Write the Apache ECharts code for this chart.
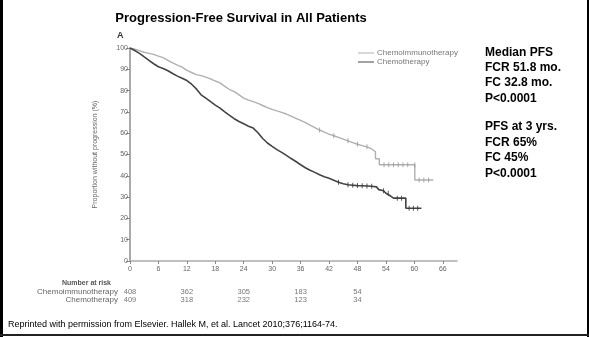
<!DOCTYPE html>
<html>
<head>
<meta charset="utf-8">
<script src="https://cdn.jsdelivr.net/npm/echarts@6/dist/echarts.min.js"></script>
<style>
html,body{margin:0;padding:0;background:#fff;}
#c{width:589px;height:337px;}
</style>
</head>
<body>
<div id="c"></div>
<script>
// ---- data ----
var xTicks = [0, 6, 12, 18, 24, 30, 36, 42, 48, 54, 60, 66];
var yTicks = [0, 10, 20, 30, 40, 50, 60, 70, 80, 90, 100];
var seriesNames = ['Chemoimmunotherapy', 'Chemotherapy'];

// Chemoimmunotherapy (FCR) Kaplan-Meier curve: [months, % progression-free]
var fcrCurve = [
  [0,100],[1,99.5],[2,98.8],[3,98],[4,97.5],[5,97],[6,96.2],[7,95.5],[8,94.2],[9,93],
  [10,92],[11,91],[12,89.5],[13,88.5],[14,87.5],[15,87],[16,86.3],[17,85.5],[18,84.5],
  [19,83.6],[20,82],[21,80.5],[22,79.5],[23,78],[24,76.5],[25,75.5],[26,74.8],[27,74],
  [28,73],[29,72],[30,71.2],[31,70.5],[32,69.8],[33,69],[34,68],[35,67],[36,66],[37,65],
  [38,63.8],[39,62.6],[40,61.5],[41,60.5],[42,59.6],[43,58.8],[44,58],[45,57.2],[46,56.4],
  [47,55.6],[48,54.8],[49,54.2],[50,53.6],[51,52.6],[51.8,51.3],[51.8,48],[52.6,48],
  [52.6,45.2],[60.1,45.2],[60.1,38],[64,38]
];
// Chemotherapy (FC) Kaplan-Meier curve
var fcCurve = [
  [0,100],[1,98.8],[2,97.5],[3,95.8],[4,94.2],[5,92.6],[6,91.2],[7,90.4],[8,89.3],[9,88],
  [10,86.8],[11,85.8],[12,84.7],[13,83],[14,80.8],[15,78],[16,76.5],[17,74.8],[18,73.2],
  [19,71.8],[20,70],[21,68.4],[22,66.8],[23,65.5],[24,64.4],[25,63.3],[26,62.4],[27,60.2],
  [28,57.5],[29,55.4],[30,53.8],[31,52.3],[32,51],[33,49.6],[34,48.1],[35,46.7],[36,45.2],
  [37,43.8],[38,42.6],[39,41.6],[40,40.5],[41,39.6],[42,38.8],[43,37.9],[44,37],[45,36.3],
  [46,35.8],[47,35.6],[48,35.4],[49,35.3],[50,35.2],[51,35.1],[52,34.8],[52.5,33.5],[53.5,33],
  [54,31.8],[55,30.5],[55.6,29.5],[58.2,29.5],[58.2,24.8],[61.5,24.8]
];
// censoring marks
var fcrCensor = [[40,61.5],[43,58.8],[46,56.4],[48,54.8],[50,53.6],[53.6,45.2],[54.6,45.2],[55.6,45.2],[56.6,45.2],[57.6,45.2],[58.6,45.2],[60.1,45.2],[61,38],[62,38],[63,38]];
var fcCensor = [[44,37],[46,35.8],[47,35.6],[48,35.4],[49,35.3],[50,35.2],[51,35.1],[53.5,33],[54.5,31.8],[56.4,29.5],[57.3,29.5],[58.9,24.8],[59.8,24.8],[60.7,24.8]];

// Number at risk
var riskTimes = [0, 12, 24, 36, 48];
var riskFCR = [408, 362, 305, 183, 54];
var riskFC = [409, 318, 232, 123, 34];

var titleText = 'Progression-Free Survival in All Patients';
var sideText = ['Median PFS','FCR 51.8 mo.','FC 32.8 mo.','P<0.0001','','PFS at 3 yrs.','FCR 65%','FC 45%','P<0.0001'];
var footText = 'Reprinted with permission from Elsevier. Hallek M, et al. Lancet 2010;376;1164-74.';

// ---- chart ----
var chart = echarts.init(document.getElementById('c'), null, {renderer: 'canvas'});
var lightC = '#b0b0b0', darkC = '#444';
var smallFont = 'Liberation Sans';

function riskData(vals, row) {
  return riskTimes.map(function (t, i) { return [t, row, vals[i]]; });
}

var sideGraphics = [];
var sideTops = [47, 62, 77, 93, -1, 121, 137, 152, 168];
sideText.forEach(function (s, i) {
  if (!s) return;
  sideGraphics.push({type: 'text', left: 485, top: sideTops[i],
    style: {text: s, font: 'bold 12px "Liberation Sans"', fill: '#000'}});
});

var option = {
  animation: false,
  backgroundColor: '#fff',
  title: {
    text: titleText, left: 236, top: 7, textAlign: 'center',
    textStyle: {fontFamily: 'Liberation Sans', fontWeight: 'bold', fontSize: 13, color: '#000'}
  },
  legend: {
    left: 353, top: 44, orient: 'vertical', itemGap: 1,
    itemWidth: 16, itemHeight: 1,
    data: [
      {name: seriesNames[0], icon: 'rect'},
      {name: seriesNames[1], icon: 'rect'}
    ],
    textStyle: {fontFamily: smallFont, fontSize: 8, color: '#777', padding: [0,0,0,-2]}
  },
  grid: [
    {left: 130, right: 132, top: 48, height: 213},
    {left: 130, right: 132, top: 288, height: 16}
  ],
  xAxis: [
    {type: 'value', gridIndex: 0, min: 0, max: 69,
     axisLine: {lineStyle: {color: '#aaa', width: 1.5}},
     axisTick: {show: true, length: 3, customValues: xTicks, lineStyle: {color: '#888'}},
     axisLabel: {customValues: xTicks, fontFamily: smallFont, fontSize: 7, color: '#666', margin: 5},
     splitLine: {show: false}},
    {type: 'value', gridIndex: 1, min: 0, max: 69, show: false}
  ],
  yAxis: [
    {type: 'value', gridIndex: 0, min: 0, max: 100, interval: 10,
     name: 'Proportion without progression (%)', nameLocation: 'middle', nameGap: 31, nameRotate: 90,
     nameTextStyle: {fontFamily: smallFont, fontSize: 7, color: '#666'},
     axisLine: {show: true, lineStyle: {color: '#aaa', width: 2}},
     axisTick: {show: true, length: 4, lineStyle: {color: '#888'}},
     axisLabel: {fontFamily: smallFont, fontSize: 7, color: '#666', margin: 2},
     splitLine: {show: false}},
    {type: 'category', gridIndex: 1, data: seriesNames, inverse: true,
     axisLine: {show: false}, axisTick: {show: false},
     axisLabel: {interval: 0, fontFamily: smallFont, fontSize: 8, color: '#666', margin: 12}}
  ],
  series: [
    {name: seriesNames[0], type: 'line', data: fcrCurve, showSymbol: false,
     xAxisIndex: 0, yAxisIndex: 0, color: lightC, lineStyle: {color: lightC, width: 1.4}, z: 3},
    {name: seriesNames[1], type: 'line', data: fcCurve, showSymbol: false,
     xAxisIndex: 0, yAxisIndex: 0, color: darkC, lineStyle: {color: darkC, width: 1.6}, z: 4},
    {type: 'scatter', data: fcrCensor, symbol: 'rect', symbolSize: [1, 5], xAxisIndex: 0, yAxisIndex: 0,
     itemStyle: {color: '#999'}, silent: true, z: 5},
    {type: 'scatter', data: fcCensor, symbol: 'rect', symbolSize: [1, 5], xAxisIndex: 0, yAxisIndex: 0,
     itemStyle: {color: '#333'}, silent: true, z: 5},
    {type: 'scatter', data: riskData(riskFCR, 0), xAxisIndex: 1, yAxisIndex: 1, symbolSize: 1,
     itemStyle: {color: 'rgba(0,0,0,0)'},
     label: {show: true, position: 'inside', formatter: function (p) { return p.value[2]; },
       fontFamily: smallFont, fontSize: 7.5, color: '#555'}},
    {type: 'scatter', data: riskData(riskFC, 1), xAxisIndex: 1, yAxisIndex: 1, symbolSize: 1,
     itemStyle: {color: 'rgba(0,0,0,0)'},
     label: {show: true, position: 'inside', formatter: function (p) { return p.value[2]; },
       fontFamily: smallFont, fontSize: 7.5, color: '#555'}}
  ],
  graphic: [
    {type: 'rect', shape: {x: 0, y: 0, width: 3, height: 337}, style: {fill: '#000'}},
    {type: 'rect', shape: {x: 587, y: 0, width: 2, height: 337}, style: {fill: '#000'}},
    {type: 'rect', shape: {x: 0, y: 334, width: 589, height: 2}, style: {fill: '#222'}},
    {type: 'text', left: 117, top: 31, style: {text: 'A', font: 'bold 9px "Liberation Sans"', fill: '#333'}},
    {type: 'text', left: 62, top: 280, style: {text: 'Number at risk', font: 'bold 7px "Liberation Sans"', fill: '#555'}},
    {type: 'text', left: 8, top: 320, style: {text: footText, font: '9px "Liberation Sans"', fill: '#000'}}
  ].concat(sideGraphics)
};
chart.setOption(option);
</script>
</body>
</html>
